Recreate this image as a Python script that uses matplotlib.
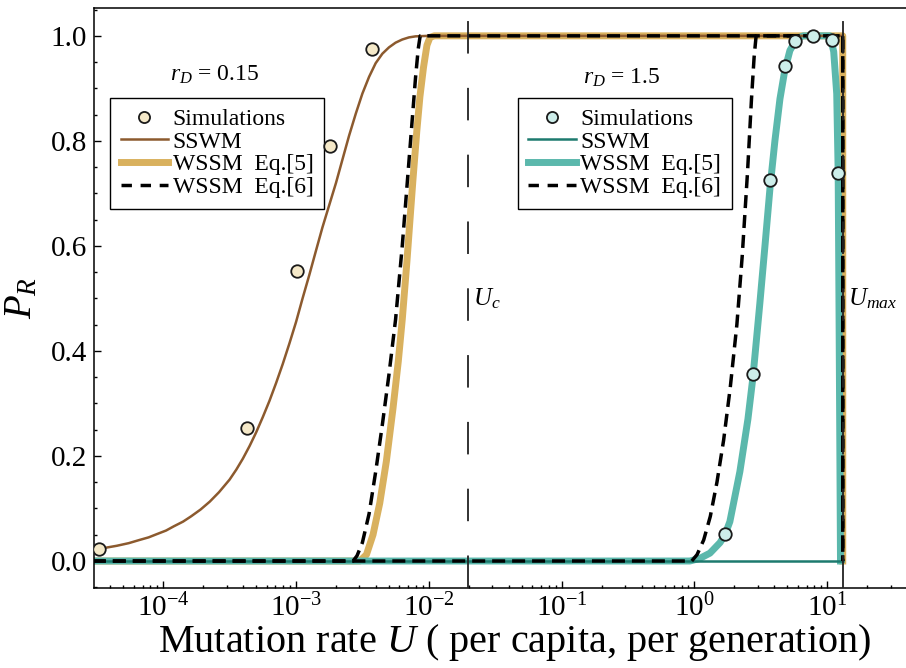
import numpy as np
import matplotlib
matplotlib.use("Agg")
import matplotlib.pyplot as plt
from matplotlib.lines import Line2D
from matplotlib.ticker import LogLocator, MultipleLocator, NullFormatter

plt.rcParams['font.family'] = ['Liberation Serif', 'DejaVu Serif']
plt.rcParams['mathtext.fontset'] = 'custom'
plt.rcParams['mathtext.rm'] = 'Liberation Serif'
plt.rcParams['mathtext.it'] = 'Liberation Serif:italic'

# critical mutation rates
U_c = 0.0197
U_max = 13.1

x_ticks = [1e-4, 1e-3, 1e-2, 1e-1, 1, 10]
x_ticklabels = ['$10^{-4}$', '$10^{-3}$', '$10^{-2}$', '$10^{-1}$', '$10^{0}$', '$10^{1}$']
y_ticks = [0.0, 0.2, 0.4, 0.6, 0.8, 1.0]
y_ticklabels = ['0.0', '0.2', '0.4', '0.6', '0.8', '1.0']

# r_D = 0.15 : simulations and theory
sim_low_U = [3.28e-5, 4.27e-4, 1.02e-3, 1.80e-3, 3.73e-3]
sim_low_P = [0.023, 0.253, 0.552, 0.79, 0.975]

sswm_low_U = [2.95e-5, 3.63e-5, 4.47e-5, 5.50e-5, 6.61e-5, 7.76e-5, 8.91e-5, 1.05e-4,
              1.20e-4, 1.41e-4, 1.62e-4, 1.91e-4, 2.24e-4, 2.63e-4, 3.16e-4, 3.55e-4,
              3.98e-4, 4.47e-4, 5.01e-4, 5.62e-4, 6.31e-4, 7.08e-4, 7.94e-4, 8.91e-4,
              1.00e-3, 1.12e-3, 1.26e-3, 1.41e-3, 1.58e-3, 1.78e-3, 2.00e-3, 2.24e-3,
              2.51e-3, 2.82e-3, 3.16e-3, 3.55e-3, 3.98e-3, 4.47e-3, 5.01e-3, 5.62e-3,
              6.31e-3, 7.08e-3, 7.94e-3, 1.00e-2, 13.1]
sswm_low_P = [0.022, 0.025, 0.029, 0.034, 0.040, 0.045, 0.051, 0.058,
              0.066, 0.075, 0.085, 0.098, 0.113, 0.131, 0.155, 0.174,
              0.195, 0.219, 0.245, 0.274, 0.305, 0.339, 0.375, 0.414,
              0.455, 0.50, 0.545, 0.59, 0.635, 0.678, 0.72, 0.765,
              0.81, 0.852, 0.89, 0.922, 0.948, 0.966, 0.978, 0.987,
              0.993, 0.997, 0.999, 1.0, 1.0]

eq5_low_U = [2.95e-5, 3.02e-3, 3.39e-3, 3.80e-3, 4.27e-3, 4.79e-3, 5.37e-3, 5.89e-3,
             6.31e-3, 6.84e-3, 7.24e-3, 7.59e-3, 8.13e-3, 8.57e-3, 9.12e-3, 9.68e-3,
             1.02e-2, 1.10e-2, 13.1, 13.1]
eq5_low_P = [0.0, 0.0, 0.012, 0.05, 0.11, 0.19, 0.29, 0.38,
             0.46, 0.57, 0.655, 0.725, 0.82, 0.884, 0.94, 0.982,
             0.997, 1.0, 1.0, 0.0]

eq6_low_U = [2.95e-5, 2.69e-3, 2.88e-3, 3.16e-3, 3.55e-3, 3.98e-3, 4.47e-3, 5.01e-3,
             5.62e-3, 6.31e-3, 7.08e-3, 7.94e-3, 8.32e-3, 8.61e-3, 13.1, 13.1]
eq6_low_P = [0.0, 0.0, 0.01, 0.035, 0.09, 0.17, 0.26, 0.355,
             0.46, 0.60, 0.76, 0.92, 0.975, 1.0, 1.0, 0.0]

# r_D = 1.5
sim_high_U = [1.70, 2.76, 3.70, 4.80, 5.71, 7.80, 10.8, 12.0]
sim_high_P = [0.051, 0.356, 0.725, 0.942, 0.99, 1.0, 0.993, 0.739]

sswm_high_U = [2.95e-5, 13.1]
sswm_high_P = [0.0, 0.0]

eq5_high_U = [2.95e-5, 0.925, 1.10, 1.31, 1.56, 1.70, 1.85, 2.20, 2.53, 2.76, 3.11,
              3.40, 3.71, 4.04, 4.41, 4.80, 5.24, 5.92, 6.61, 10.5, 11.2, 11.8,
              12.1, 12.3, 12.5, 12.6]
eq5_high_P = [0.0, 0.0, 0.005, 0.015, 0.035, 0.05, 0.075, 0.17, 0.27, 0.35, 0.49,
              0.60, 0.71, 0.80, 0.88, 0.935, 0.972, 0.995, 1.0, 1.0, 0.97, 0.89,
              0.74, 0.45, 0.15, 0.0]

eq6_high_U = [2.95e-5, 0.955, 1.047, 1.175, 1.318, 1.479, 1.66, 1.862, 2.089,
              2.291, 2.512, 2.692, 2.818, 2.917, 13.1, 13.1]
eq6_high_P = [0.0, 0.0, 0.012, 0.04, 0.085, 0.15, 0.23, 0.33, 0.45,
              0.58, 0.74, 0.88, 0.96, 1.0, 1.0, 0.0]

brown = '#8c5a2e'
gold = '#d9b15e'
teal = '#5bb8ac'
dark_teal = '#1d7a6e'
cream = '#f5e9c9'
pale_teal = '#cdeeea'

fig = plt.figure(figsize=(9.06, 6.68), dpi=100)
ax = fig.add_axes([94 / 906, 80 / 668, 863 / 906, 580 / 668])

ax.plot(eq5_low_U, eq5_low_P, color=gold, lw=5, solid_joinstyle='round', zorder=2)
ax.plot(eq5_high_U, eq5_high_P, color=teal, lw=5, solid_joinstyle='round', zorder=2)
ax.plot(sswm_low_U, sswm_low_P, color=brown, lw=1.8, zorder=3)
ax.plot(sswm_high_U, sswm_high_P, color=dark_teal, lw=1.8, zorder=3)
ax.plot(eq6_low_U, eq6_low_P, color='black', lw=2.5, dashes=(3.75, 2.0), zorder=4)
ax.plot(eq6_high_U, eq6_high_P, color='black', lw=2.5, dashes=(3.75, 2.0), zorder=4)

for u in (U_c, U_max):
    ax.plot([u, u], [-0.052, 1.036], color='#222222', lw=1.3, dashes=(18, 19), zorder=5)

ax.plot(sim_low_U, sim_low_P, ls='none', marker='o', ms=9, mfc=cream, mec='#1a1a1a',
        mew=1.3, zorder=6)
ax.plot(sim_high_U, sim_high_P, ls='none', marker='o', ms=9, mfc=pale_teal, mec='#1a1a1a',
        mew=1.3, zorder=6)

ax.set_xscale('log')
ax.set_xlim(3.01e-5, 95)
ax.set_ylim(-0.0514, 1.053)

ax.set_xticks(x_ticks)
ax.set_xticklabels(x_ticklabels)
ax.xaxis.set_minor_locator(LogLocator(base=10, subs=np.arange(2, 10), numticks=100))
ax.xaxis.set_minor_formatter(NullFormatter())
ax.set_yticks(y_ticks)
ax.set_yticklabels(y_ticklabels)
ax.yaxis.set_minor_locator(MultipleLocator(0.05))

ax.tick_params(which='both', direction='in', top=False, right=False, width=1.0,
               labelsize=21)
ax.tick_params(which='major', length=5)
ax.tick_params(which='minor', length=2.5)
ax.tick_params(axis='x', pad=4)
ax.tick_params(axis='y', pad=5)

for s in ('left', 'bottom', 'top'):
    ax.spines[s].set_linewidth(1.1)
ax.spines['right'].set_visible(False)

ax.set_xlabel('Mutation rate $U$ ( per capita, per generation)', fontsize=29)
ax.xaxis.label.set_va('baseline')
ax.xaxis.set_label_coords(0.487, -0.11)
ax.set_ylabel('$P_R$', fontsize=28)
ax.yaxis.set_label_coords(-0.062, 0.5)

ax.text(2.45e-4, 0.926, '$r_D$ = 0.15', fontsize=17, ha='center', va='center')
ax.text(0.284, 0.92, '$r_D$ = 1.5', fontsize=17, ha='center', va='center')
ax.text(0.0215, 0.5, '$U_c$', fontsize=18, ha='left', va='center')
ax.text(14.3, 0.5, '$U_{max}$', fontsize=18, ha='left', va='center')


def make_handles(fill, solid, thick):
    return [
        Line2D([], [], ls='none', marker='o', ms=8, mfc=fill, mec='#1a1a1a', mew=1.3),
        Line2D([], [], color=solid, lw=1.8),
        Line2D([], [], color=thick, lw=5),
        Line2D([], [], color='black', lw=2.5, dashes=(3.0, 2.5)),
    ]


labels = ['Simulations', 'SSWM', 'WSSM  Eq.[5]', 'WSSM  Eq.[6]']
leg_kw = dict(loc='upper left', fontsize=17, frameon=True, fancybox=False,
              framealpha=1, edgecolor='black', borderaxespad=0, labelspacing=0.05,
              handlelength=2.0, handletextpad=0.2, borderpad=0.45)

leg1 = ax.legend(make_handles(cream, brown, gold), labels,
                 bbox_to_anchor=(0.0185, 0.845), **leg_kw)
leg1.get_frame().set_linewidth(1.0)
ax.add_artist(leg1)
leg2 = ax.legend(make_handles(pale_teal, dark_teal, teal), labels,
                 bbox_to_anchor=(0.491, 0.845), **leg_kw)
leg2.get_frame().set_linewidth(1.0)

fig.savefig('out.png', dpi=100)
